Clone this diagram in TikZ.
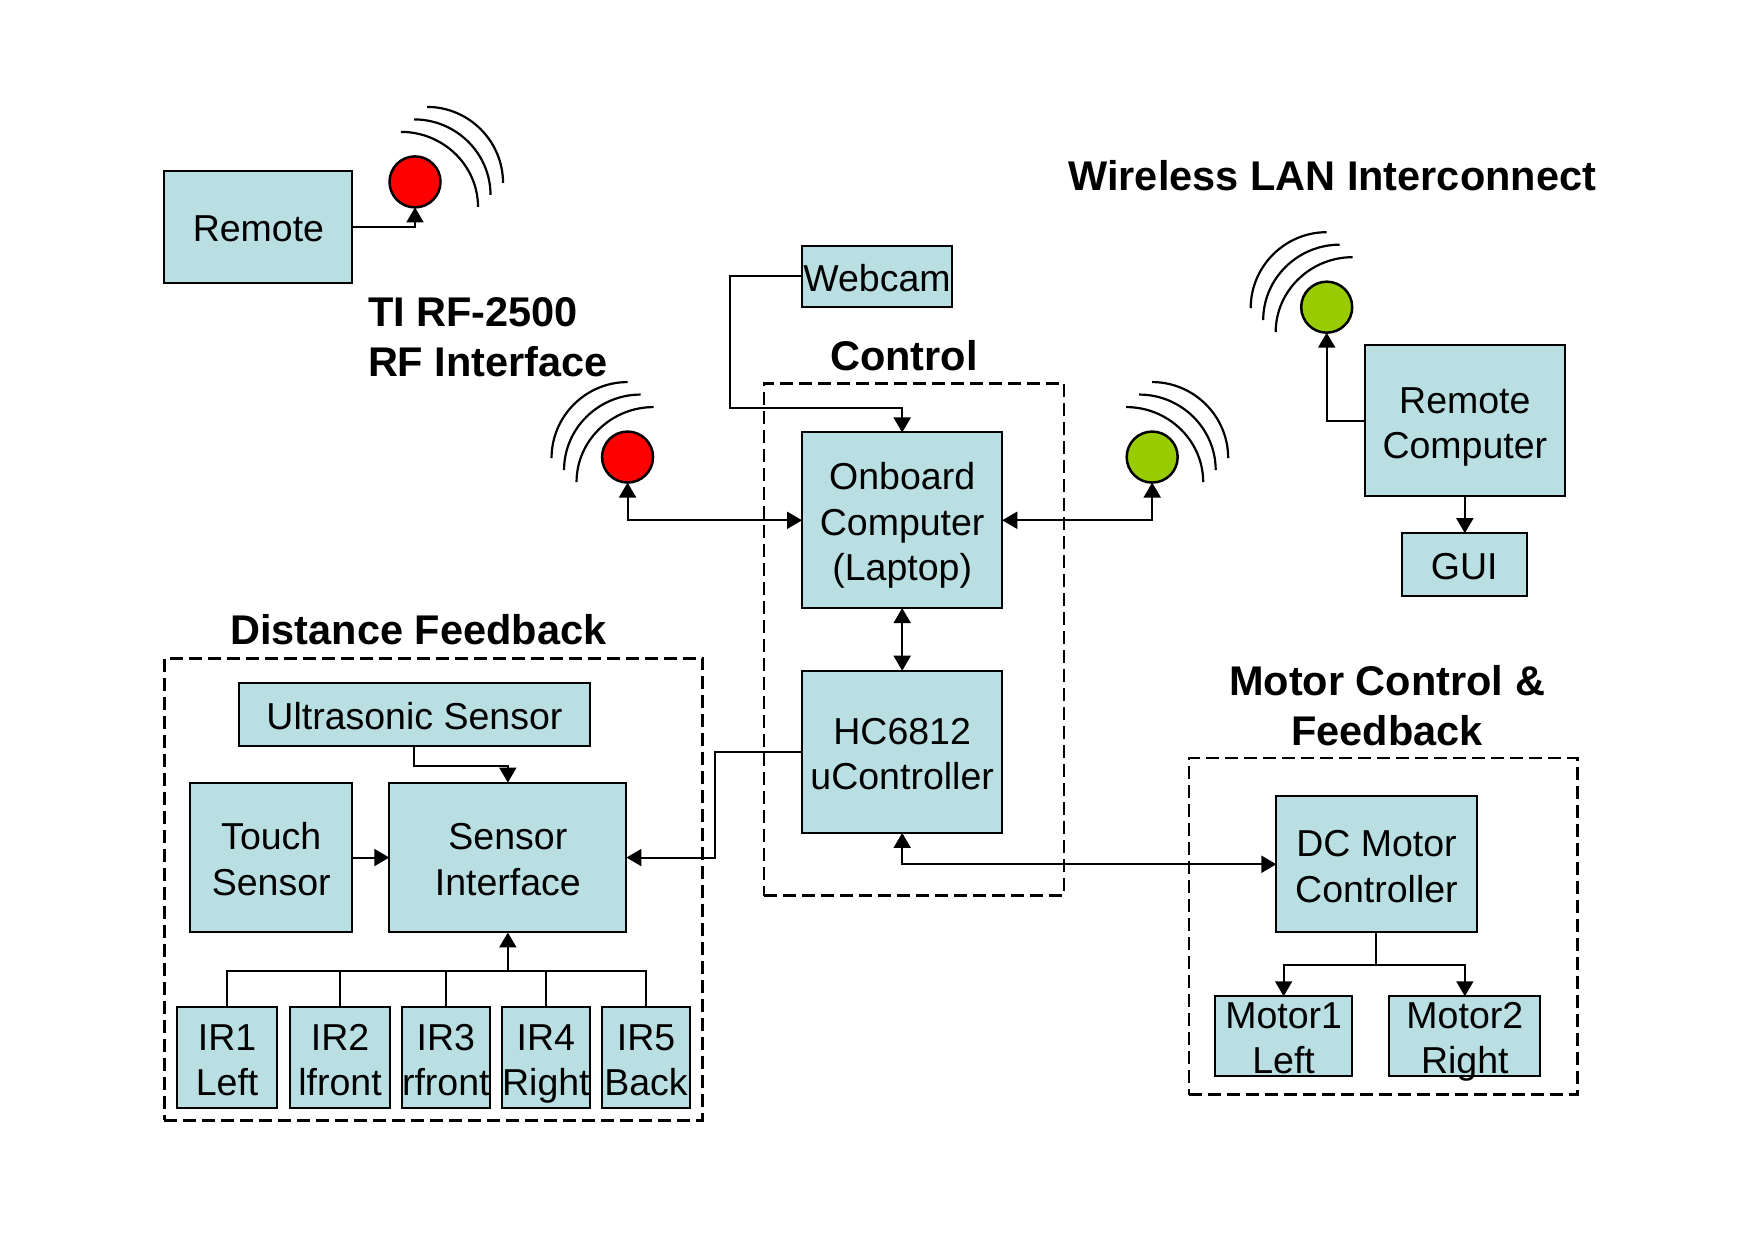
\documentclass[tikz,border=0pt]{standalone}
\usepackage{fontspec}
\setmainfont{Liberation Sans}
\usetikzlibrary{arrows.meta,calc}
\definecolor{boxfill}{HTML}{B9DFE3}
\definecolor{rfred}{HTML}{FF0000}
\definecolor{langreen}{HTML}{99CC00}
\tikzset{
  boxstyle/.style={draw=black,line width=2pt,fill=boxfill,inner sep=0pt,outer sep=0pt},
  grpstyle/.style={draw=black,line width=2.6pt,dash pattern=on 13pt off 6pt,inner sep=0pt,outer sep=0pt},
  lbl/.style={inner sep=0pt,outer sep=0pt,align=center,yshift=-6pt,font=\fontsize{37.5}{45.5}\selectfont},
  title/.style={inner sep=0pt,outer sep=0pt,align=center,font=\fontsize{41.5}{50}\selectfont\bfseries},
  dot/.style={circle,draw=black,line width=2.5pt,inner sep=0pt,outer sep=0pt,minimum size=51pt},
  conn/.style={line width=2pt,draw=black},
  arr/.style={conn,-{Triangle[length=15pt,width=17pt]}},
  barr/.style={conn,{Triangle[length=15pt,width=17pt]}-{Triangle[length=15pt,width=17pt]}},
  wave/.style={line width=2.2pt,draw=black}
}
\newcommand{\bx}[6]{%
  \pgfmathsetmacro\mycx{(#2+#4)/2}\pgfmathsetmacro\mycy{(#3+#5)/2}%
  \pgfmathsetmacro\mywd{(#4-#2)*1.1186}\pgfmathsetmacro\myht{(#5-#3)*1.1186}%
  \node[boxstyle,minimum width=\mywd pt,minimum height=\myht pt] (#1) at (\mycx,\mycy) {};
  \node[lbl] (#1-text) at (#1.center) {\strut #6\strut};
}
\newcommand{\grp}[5]{%
  \pgfmathsetmacro\mycx{(#2+#4)/2}\pgfmathsetmacro\mycy{(#3+#5)/2}%
  \pgfmathsetmacro\mywd{(#4-#2)*1.1186}\pgfmathsetmacro\myht{(#5-#3)*1.1186}%
  \node[grpstyle,minimum width=\mywd pt,minimum height=\myht pt] (#1) at (\mycx,\mycy) {};
}
% #1 centre, #2 side (+1 right, -1 left), #3 extra x offset
\newcommand{\waves}[3]{%
  \foreach \wk in {0,1,2}{%
    \pgfmathsetmacro\wsx{#2*(-26+13*\wk+#3)}\pgfmathsetmacro\wsy{50+12.5*\wk}%
    \pgfmathsetmacro\wex{#2*(51+12.5*\wk+#3)}\pgfmathsetmacro\wey{-25+12*\wk}%
    \pgfmathsetmacro\wax{\wsx+0.55*(\wex-\wsx)}%
    \pgfmathsetmacro\wby{\wey+0.55*(\wsy-\wey)}%
    \draw[wave] ([shift={(\wsx pt,\wsy pt)}]#1.center) .. controls ([shift={(\wax pt,\wsy pt)}]#1.center) and ([shift={(\wex pt,\wby pt)}]#1.center) .. ([shift={(\wex pt,\wey pt)}]#1.center);
  }%
}
\begin{document}
\begin{tikzpicture}[x=1.1186pt,y=-1.1186pt]
\path[use as bounding box,fill=white] (0,-0.6) rectangle (1568,1107.9);
% groups
\grp{control}{683}{342}{951}{800}
\grp{distance}{147}{588}{628}{1001}
\grp{motorgrp}{1063}{677}{1410}{978}
% boxes
\bx{remote}{147}{152}{315}{252}{Remote}
\bx{webcam}{717}{219}{851}{274}{Webcam}
\bx{onboard}{717}{386}{896}{543}{Onboard\\Computer\\(Laptop)}
\bx{hc}{717}{599}{896}{744}{HC6812\\uController}
\bx{rc}{1220}{308}{1399}{443}{Remote\\Computer}
\bx{gui}{1253}{476}{1365}{532}{GUI}
\bx{us}{214}{610}{527}{666}{Ultrasonic Sensor}
\bx{touch}{170}{699}{315}{833}{Touch\\Sensor}
\bx{sensor}{348}{699}{560}{833}{Sensor\\Interface}
\bx{irone}{158}{900}{248}{990}{IR1\\Left}
\bx{irtwo}{259}{900}{349}{990}{IR2\\lfront}
\bx{irthree}{359}{900}{438}{990}{IR3\\rfront}
\bx{irfour}{449}{900}{527}{990}{IR4\\Right}
\bx{irfive}{538}{900}{617}{990}{IR5\\Back}
\bx{dc}{1141}{711}{1320}{833}{DC Motor\\Controller}
\bx{mone}{1086}{890}{1209}{961}{Motor1\\Left}
\bx{mtwo}{1242}{890}{1377}{961}{Motor2\\Right}
% antennas
\node[dot,fill=rfred] (redone) at (371,162) {};
\node[dot,fill=rfred] (redtwo) at (561,408) {};
\node[dot,fill=langreen] (greenone) at (1186,274) {};
\node[dot,fill=langreen] (greentwo) at (1030,408) {};
\waves{redone}{1}{12}
\waves{redtwo}{-1}{0}
\waves{greenone}{-1}{0}
\waves{greentwo}{1}{0}
% helper points
\coordinate (wcbend) at (653,364);
\coordinate (hcbend) at (639,766);
\coordinate (usbend) at (454,684);
\coordinate (busj) at (454,867);
\coordinate (mj) at (1230.5,862);
% connectors
\draw[arr] (remote.east) -| (redone.south);
\draw[arr] (webcam.west) -| (wcbend) -| (onboard.north);
\draw[barr] (redtwo.south) |- (onboard.west);
\draw[barr] (greentwo.south) |- (onboard.east);
\draw[barr] (onboard.south) -- (hc.north);
\draw[arr] (hc.west) -| (hcbend) -- (sensor.east);
\draw[barr] (hc.south) |- (dc.west);
\draw[arr] (us.south) |- (usbend) -- (sensor.north);
\draw[arr] (touch.east) -- (sensor.west);
\draw[arr] (busj) -- (sensor.south);
\draw[conn] (irone.north) |- (busj);
\draw[conn] (irtwo.north) |- (busj);
\draw[conn] (irthree.north) |- (busj);
\draw[conn] (irfour.north) |- (busj);
\draw[conn] (irfive.north) |- (busj);
\draw[conn] (dc.south) -- (mj);
\draw[arr] (mj) -| (mone.north);
\draw[arr] (mj) -| (mtwo.north);
\draw[arr] (rc.west) -| (greenone.south);
\draw[arr] (rc.south) -- (rc.south |- gui.north);
% titles
\node[title,align=left,anchor=west] (rftitle) at (329,301) {TI RF-2500\\RF Interface};
\node[title] (ctltitle) at (808,317) {Control};
\node[title] (wlantitle) at (1191,156) {Wireless LAN Interconnect};
\node[title] (disttitle) at (374,562) {Distance Feedback};
\node[title] (mottitle) at (1240,630) {Motor Control \&\\Feedback};
\end{tikzpicture}
\end{document}
